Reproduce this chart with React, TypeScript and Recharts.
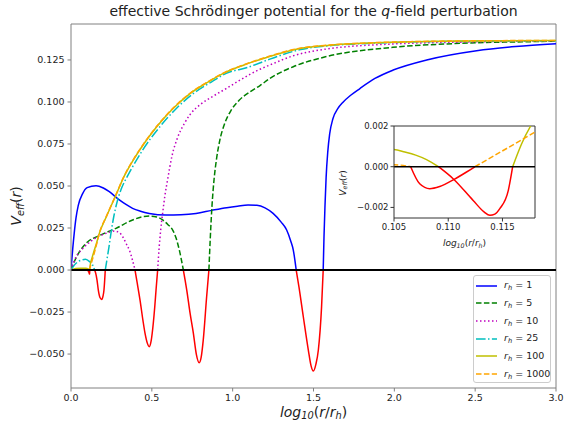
import { Line, LineChart, ReferenceLine, XAxis, YAxis } from "recharts";

// effective potential curves, [log10(r/rh), Veff]
const rh1: [number, number][] = [
  [0, 0], [0.005, 0.006], [0.011, 0.013], [0.02, 0.022], [0.031, 0.031], [0.045, 0.0385], [0.072, 0.0455], [0.1, 0.049],
  [0.155, 0.0502], [0.2, 0.0488], [0.237, 0.0466], [0.299, 0.0417], [0.34, 0.039], [0.381, 0.0367], [0.43, 0.035],
  [0.484, 0.0337], [0.588, 0.0327], [0.68, 0.0329], [0.773, 0.0337], [0.87, 0.0355], [0.963, 0.0371], [1.03, 0.038],
  [1.095, 0.0387], [1.15, 0.0385], [1.2, 0.037], [1.25, 0.0337], [1.3, 0.0285], [1.334, 0.0238], [1.36, 0.017],
  [1.375, 0.0119], [1.393, 0], [1.41, -0.01], [1.437, -0.0278], [1.468, -0.0476], [1.485, -0.057], [1.499, -0.0601],
  [1.515, -0.056], [1.53, -0.0476], [1.55, -0.0218], [1.56, 0], [1.565, 0.02], [1.571, 0.038], [1.578, 0.055],
  [1.588, 0.07], [1.6, 0.081], [1.62, 0.09], [1.65, 0.096], [1.684, 0.1], [1.73, 0.104], [1.787, 0.108], [1.88, 0.114],
  [1.993, 0.119], [2.2, 0.125], [2.509, 0.1305], [2.75, 0.133], [3.0, 0.1347],
];
const rh5: [number, number][] = [
  [0, 0], [0.025, 0.006], [0.05, 0.0105], [0.1, 0.0165], [0.175, 0.0205], [0.278, 0.0248], [0.381, 0.0298],
  [0.44, 0.0316], [0.484, 0.0321], [0.53, 0.0316], [0.567, 0.0298], [0.6, 0.027], [0.629, 0.0238], [0.65, 0.019],
  [0.67, 0.0119], [0.695, 0], [0.716, -0.0119], [0.737, -0.026], [0.757, -0.0377], [0.775, -0.05], [0.793, -0.0552],
  [0.805, -0.052], [0.818, -0.0417], [0.839, -0.0159], [0.853, 0], [0.862, 0.02], [0.872, 0.038], [0.885, 0.054],
  [0.9, 0.066], [0.92, 0.077], [0.95, 0.087], [0.99, 0.095], [1.04, 0.101], [1.107, 0.106], [1.169, 0.1098],
  [1.23, 0.114], [1.375, 0.121], [1.58, 0.127], [1.99, 0.1325], [2.41, 0.1349], [2.9, 0.136], [3, 0.1362],
];
const rh10: [number, number][] = [
  [0, 0], [0.03, 0.0075], [0.07, 0.0125], [0.134, 0.0179], [0.216, 0.0218], [0.268, 0.0232], [0.3, 0.0222],
  [0.32, 0.0198], [0.345, 0.015], [0.361, 0.0119], [0.38, 0.006], [0.396, 0], [0.41, -0.008], [0.427, -0.0179],
  [0.445, -0.03], [0.458, -0.0377], [0.472, -0.0435], [0.484, -0.0456], [0.496, -0.042], [0.509, -0.0317],
  [0.518, -0.022], [0.526, -0.0119], [0.536, 0], [0.545, 0.013], [0.555, 0.024], [0.567, 0.034], [0.582, 0.045],
  [0.598, 0.054], [0.625, 0.068], [0.66, 0.079], [0.7, 0.087], [0.736, 0.0925], [0.8, 0.0985], [0.88, 0.1035],
  [0.96, 0.108], [1.045, 0.113], [1.169, 0.1195], [1.23, 0.122], [1.375, 0.1275], [1.58, 0.1315],
  [1.99, 0.1345], [2.41, 0.1356], [3, 0.1364],
];
const rh25: [number, number][] = [
  [0, 0], [0.015, 0.0022], [0.031, 0.004], [0.06, 0.0058], [0.09, 0.0064], [0.115, 0.005], [0.134, 0.003],
  [0.146, 0], [0.153, -0.002], [0.161, -0.006], [0.169, -0.0119], [0.18, -0.0165], [0.19, -0.0175], [0.198, -0.0155],
  [0.204, -0.0119], [0.212, 0], [0.222, 0.006], [0.235, 0.0138], [0.247, 0.0218], [0.265, 0.032], [0.285, 0.0405],
  [0.31, 0.048], [0.35, 0.056], [0.405, 0.0654], [0.443, 0.0714], [0.55, 0.0853], [0.65, 0.096], [0.756, 0.105],
  [0.87, 0.112], [0.96, 0.117], [1.09, 0.1205], [1.23, 0.1255], [1.42, 0.1312], [1.6, 0.1335], [1.8, 0.1347],
  [2.1, 0.1357], [2.5, 0.1362], [3, 0.1365],
];
const rh100: [number, number][] = [
  [0, 0], [0.03, 0.0009], [0.06, 0.0011], [0.09, 0.001], [0.105, 0.00084], [0.106, 0.00072], [0.107, 0.00057],
  [0.108, 0.00035], [0.1091, 0], [0.11045, -0.00059], [0.1123, -0.00166], [0.1133, -0.00222], [0.11384, -0.00239],
  [0.1143, -0.00233], [0.11477, -0.00205], [0.11554, -0.00116], [0.11594, 0], [0.11677, 0.00113], [0.1176, 0.002],
  [0.119, 0.003], [0.122, 0.0045], [0.13, 0.0072], [0.14, 0.0105], [0.155, 0.015], [0.175, 0.0218], [0.22, 0.032],
  [0.278, 0.0446], [0.33, 0.056], [0.385, 0.0654], [0.45, 0.075], [0.53, 0.0853], [0.63, 0.096], [0.736, 0.105],
  [0.85, 0.112], [0.942, 0.117], [1.07, 0.122], [1.21, 0.1265], [1.4, 0.1315], [1.6, 0.1338], [1.8, 0.1349],
  [2.1, 0.1358], [2.5, 0.1363], [3, 0.1366],
];
const rh1000: [number, number][] = [
  [0, 0], [0.05, 0.0002], [0.09, 0.00015], [0.105, 0.0001], [0.10654, 0], [0.10737, -0.00084], [0.1083, -0.00108],
  [0.10922, -0.00097], [0.11055, -0.00062], [0.11169, -0.00026], [0.11246, 0], [0.118, 0.0017], [0.125, 0.0039],
  [0.135, 0.0072], [0.15, 0.0122], [0.175, 0.0219], [0.22, 0.0322], [0.278, 0.0448], [0.33, 0.0562], [0.385, 0.0656],
  [0.45, 0.0752], [0.53, 0.0855], [0.63, 0.0962], [0.736, 0.1052], [0.85, 0.1122], [0.942, 0.1172], [1.07, 0.1222],
  [1.21, 0.1267], [1.4, 0.1317], [1.6, 0.1339], [1.8, 0.135], [2.1, 0.1359], [2.5, 0.1364], [3, 0.1366],
];

const xTicks = [0, 0.5, 1, 1.5, 2, 2.5, 3];
const yTicks = [-0.05, -0.025, 0, 0.025, 0.05, 0.075, 0.1, 0.125];
const insetXTicks = [0.105, 0.11, 0.115];
const insetYTicks = [-0.002, 0, 0.002];

const Y_MIN = -0.0702;
const Y_MAX = 0.1464;
const IN_X = [0.105, 0.118];
const IN_Y = [-0.00252, 0.002];

const series = [
  { label: "1", pts: rh1, color: "#0000ff", dash: undefined },
  { label: "5", pts: rh5, color: "#008000", dash: "5.5 2.4" },
  { label: "10", pts: rh10, color: "#bf00bf", dash: "1.5 2.5" },
  { label: "25", pts: rh25, color: "#00bfbf", dash: "9.6 2.4 1.5 2.4" },
  { label: "100", pts: rh100, color: "#bfbf00", dash: undefined },
  { label: "1000", pts: rh1000, color: "#ffa500", dash: "5.5 2.4" },
];

// positive part in series colour, negative part in red
const split = (pts: [number, number][]) => ({
  pos: pts.map(([x, y]) => ({ x, y: y >= 0 ? y : null })),
  neg: pts.map(([x, y]) => ({ x, y: y <= 0 ? y : null })),
});
const parts = series.map((s) => ({ ...s, ...split(s.pts) }));
const insetParts = parts.slice(4);

const fmt = (d: number) => (v: number) => (v < 0 ? "\u2212" : "") + Math.abs(v).toFixed(d);
const FONT = "'DejaVu Sans', sans-serif";
const GRAY = "#808080";

function Sub({ base, sub }: { base: string; sub: string }) {
  return (
    <>
      <i>{base}</i>
      <sub style={{ fontSize: "0.7em", verticalAlign: "-0.25em" }}>
        <i>{sub}</i>
      </sub>
    </>
  );
}

function Lines({ list }: { list: typeof parts }) {
  return (
    <>
      {list.map((s) => (
        <Line key={s.label} data={s.pos} dataKey="y" type="monotone" stroke={s.color} strokeWidth={1.5}
          strokeDasharray={s.dash} dot={false} activeDot={false} isAnimationActive={false} />
      ))}
      {list.map((s) => (
        <Line key={"n" + s.label} data={s.neg} dataKey="y" type="monotone" stroke="#ff0000" strokeWidth={1.5}
          dot={false} activeDot={false} isAnimationActive={false} />
      ))}
    </>
  );
}

export default function App() {
  return (
    <div style={{ position: "absolute", left: 0, top: 0, width: 564, height: 424, fontFamily: FONT, background: "#fff" }}>
      <LineChart width={564} height={424} margin={{ top: 24, right: 8, bottom: 6, left: 11 }}>
        <XAxis type="number" dataKey="x" domain={[0, 3]} ticks={xTicks} tickFormatter={fmt(1)} allowDataOverflow
          height={30} tickSize={3.5} tickMargin={3} stroke={GRAY} tick={{ fontSize: 9.5, fill: "#222", fontFamily: FONT }} />
        <YAxis type="number" domain={[Y_MIN, Y_MAX]} ticks={yTicks} tickFormatter={fmt(3)} allowDataOverflow
          width={60} tickSize={3.5} tickMargin={3} stroke={GRAY} tick={{ fontSize: 9.5, fill: "#222", fontFamily: FONT }} />
        <ReferenceLine x={3} stroke={GRAY} />
        <ReferenceLine y={Y_MAX} stroke={GRAY} />
        <Lines list={parts} />
        <ReferenceLine y={0} stroke="#000" strokeWidth={2} />
      </LineChart>

      <div style={{ position: "absolute", left: 0, width: 627, top: 3, textAlign: "center", fontSize: 14, color: "#222" }}>
        effective Schrödinger potential for the <i>q</i>-field perturbation
      </div>
      <div style={{ position: "absolute", left: 0, width: 627, top: 404, textAlign: "center", fontSize: 14, color: "#222" }}>
        <Sub base="log" sub="10" />(<i>r</i>/<Sub base="r" sub="h" />)
      </div>
      <div style={{ position: "absolute", left: 17, top: 206, transform: "translate(-50%,-50%) rotate(-90deg)", fontSize: 14, color: "#222", whiteSpace: "nowrap" }}>
        <Sub base="V" sub="eff" />(<i>r</i>)
      </div>

      {/* inset */}
      <div style={{ position: "absolute", left: 340, top: 110 }}>
        <LineChart width={200} height={150} margin={{ top: 16, right: 5, bottom: 22, left: 4 }}>
          <XAxis type="number" dataKey="x" domain={IN_X} ticks={insetXTicks} tickFormatter={fmt(3)} allowDataOverflow
            height={20} tickSize={3.5} tickMargin={2} stroke="#333" tick={{ fontSize: 8.5, fill: "#222", fontFamily: FONT }} />
          <YAxis type="number" domain={IN_Y} ticks={insetYTicks} tickFormatter={fmt(3)} allowDataOverflow
            width={50} tickSize={3.5} tickMargin={2} stroke="#333" tick={{ fontSize: 8.5, fill: "#222", fontFamily: FONT }} />
          <ReferenceLine x={IN_X[1]} stroke="#333" />
          <ReferenceLine y={IN_Y[1]} stroke="#333" />
          <Lines list={insetParts} />
          <ReferenceLine y={0} stroke="#000" strokeWidth={1.5} />
        </LineChart>
        <div style={{ position: "absolute", left: 54, width: 141, top: 128, textAlign: "center", fontSize: 9, color: "#222" }}>
          <Sub base="log" sub="10" />(<i>r</i>/<Sub base="r" sub="h" />)
        </div>
        <div style={{ position: "absolute", left: 3, top: 73, transform: "translate(-50%,-50%) rotate(-90deg)", fontSize: 9, color: "#222", whiteSpace: "nowrap" }}>
          <Sub base="V" sub="eff" />(<i>r</i>)
        </div>
      </div>

      {/* legend */}
      <div style={{ position: "absolute", left: 473, top: 275, width: 76, height: 106, border: "1px solid #ccc", borderRadius: 3, background: "rgba(255,255,255,0.8)", fontSize: 9.5, color: "#222" }}>
        {series.map((s, i) => (
          <div key={s.label} style={{ position: "absolute", left: 2, top: 2 + i * 17.7, height: 15, display: "flex", alignItems: "center", whiteSpace: "nowrap" }}>
            <svg width={21} height={6}>
              <line x1={0} y1={3} x2={21} y2={3} stroke={s.color} strokeWidth={1.5} strokeDasharray={s.dash} />
            </svg>
            <span style={{ marginLeft: 7 }}>
              <Sub base="r" sub="h" /> = {s.label}
            </span>
          </div>
        ))}
      </div>
    </div>
  );
}
